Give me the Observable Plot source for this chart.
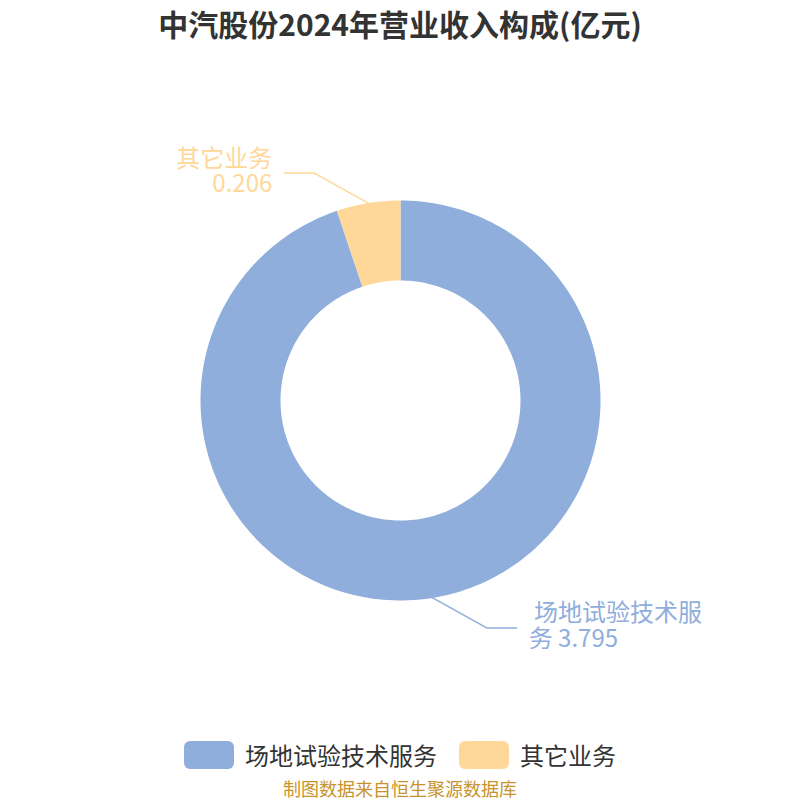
<!DOCTYPE html>
<html>
<head>
<meta charset="utf-8">
<script src="https://cdn.jsdelivr.net/npm/d3@7"></script>
<script src="https://cdn.jsdelivr.net/npm/@observablehq/plot@0.6"></script>
<style>
  html, body { margin: 0; padding: 0; background: #fff; }
  #wrap { position: relative; width: 800px; height: 800px; overflow: hidden; font-family: "Noto Sans CJK SC", "Noto Sans", sans-serif; }
  #title { position: absolute; top: 0; left: 0; width: 800px; text-align: center; font-size: 30px; font-weight: bold; color: #333; line-height: 46px; }
  #legend { position: absolute; top: 738px; left: 0; width: 800px; display: flex; justify-content: center; align-items: center; font-size: 24px; color: #333; line-height: 34px; }
  .item { display: flex; align-items: center; margin: 0 11px; }
  .sw { width: 50px; height: 28px; border-radius: 6px; margin-right: 11px; }
  #caption { position: absolute; top: 778px; left: 0; width: 800px; text-align: center; font-size: 18px; line-height: 20px; color: #C8932C; }
  #chart { position: absolute; top: 0; left: 0; }
</style>
</head>
<body>
<div id="wrap">
  <div id="chart"></div>
  <div id="title"></div>
  <div id="legend"></div>
  <div id="caption"></div>
</div>
<script>
const titleText = "中汽股份2024年营业收入构成(亿元)";
const captionText = "制图数据来自恒生聚源数据库";
const categories = ["场地试验技术服务", "其它业务"];
const values = [3.795, 0.206];
const colors = ["#8FAEDB", "#FFD899"];
const labelTexts = ["\u00a0场地试验技术服\n务 3.795", "其它业务\n0.206"];

const innerR = 0.6, outerR = 1.0;
const arcs = d3.pie().sort(null).startAngle(0).endAngle(2 * Math.PI)(values);

// ring polygons
const ringPts = [];
arcs.forEach((a, i) => {
  const n = 240;
  for (let k = 0; k <= n; k++) {
    const t = a.startAngle + (a.endAngle - a.startAngle) * k / n;
    ringPts.push({cat: categories[i], x: outerR * Math.sin(t), y: outerR * Math.cos(t)});
  }
  for (let k = n; k >= 0; k--) {
    const t = a.startAngle + (a.endAngle - a.startAngle) * k / n;
    ringPts.push({cat: categories[i], x: innerR * Math.sin(t), y: innerR * Math.cos(t)});
  }
});

// leader lines and labels
const leaderPts = [];
const labels = [];
arcs.forEach((a, i) => {
  const m = (a.startAngle + a.endAngle) / 2;
  const sx = Math.sign(Math.sin(m)) || 1, sy = Math.sign(Math.cos(m)) || 1;
  const p0 = [outerR * Math.sin(m), outerR * Math.cos(m)];
  const p1 = [p0[0] + sx * 0.27, p0[1] + sy * 0.15];
  const p2 = [p1[0] + sx * 0.15, p1[1]];
  [p0, p1, p2].forEach(p => leaderPts.push({cat: categories[i], x: p[0], y: p[1]}));
  labels.push({cat: categories[i], text: labelTexts[i], x: p2[0] + sx * 0.06, y: p2[1] + 0.01, anchor: sx > 0 ? "start" : "end"});
});

const plot = Plot.plot({
  width: 800, height: 800, margin: 0,
  x: {domain: [-2, 2], axis: null},
  y: {domain: [-2, 2], axis: null},
  color: {domain: categories, range: colors},
  style: {fontFamily: '"Noto Sans CJK SC", "Noto Sans", sans-serif', background: "white"},
  marks: [
    Plot.line(ringPts, {x: "x", y: "y", z: "cat", fill: "cat", stroke: "none", curve: "linear"}),
    Plot.line(leaderPts, {x: "x", y: "y", z: "cat", stroke: "cat", strokeWidth: 1.5, curve: "linear"}),
    Plot.text(labels.filter(d => d.anchor === "start"), {x: "x", y: "y", text: "text", fill: "cat", fontSize: 24, textAnchor: "start", lineAnchor: "middle", lineHeight: 1.05}),
    Plot.text(labels.filter(d => d.anchor === "end"), {x: "x", y: "y", text: "text", fill: "cat", fontSize: 24, textAnchor: "end", lineAnchor: "middle", lineHeight: 1.05})
  ]
});
document.getElementById("chart").appendChild(plot);
document.getElementById("title").textContent = titleText;
document.getElementById("caption").textContent = captionText;
const lg = document.getElementById("legend");
categories.forEach((c, i) => {
  const it = document.createElement("div"); it.className = "item";
  const sw = document.createElement("div"); sw.className = "sw"; sw.style.background = colors[i];
  const tx = document.createElement("span"); tx.textContent = c;
  it.appendChild(sw); it.appendChild(tx); lg.appendChild(it);
});
</script>
</body>
</html>
